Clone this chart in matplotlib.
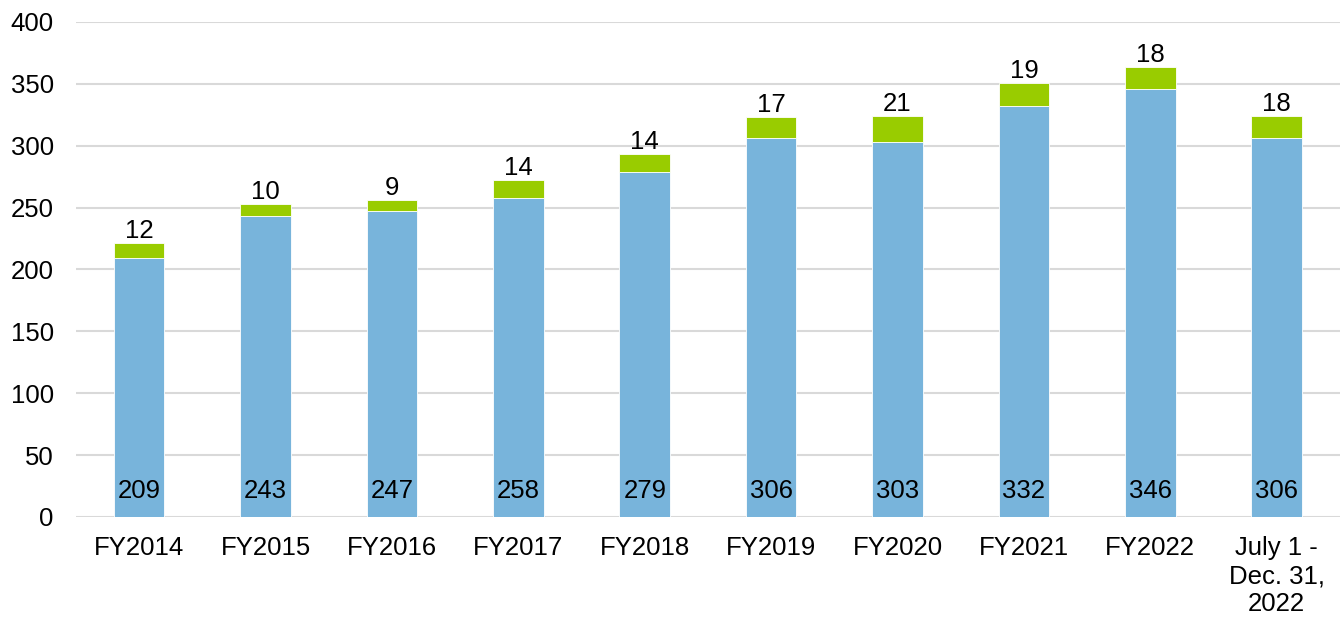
import numpy as np
import matplotlib
matplotlib.use("Agg")
import matplotlib.pyplot as plt

categories = ["FY2014", "FY2015", "FY2016", "FY2017", "FY2018", "FY2019",
              "FY2020", "FY2021", "FY2022", "July 1 -\nDec. 31,\n2022"]
base_values = [209, 243, 247, 258, 279, 306, 303, 332, 346, 306]
top_values = [12, 10, 9, 14, 14, 17, 21, 19, 18, 18]

plt.rcParams["font.family"] = ["Liberation Sans", "DejaVu Sans"]
plt.rcParams["font.size"] = 18.5

fig = plt.figure(figsize=(13.44, 6.21), dpi=100)
ax = fig.add_axes([0.0565, 0.1675, 0.9405, 0.7971])

x = np.arange(len(categories))
blue = "#78B4DB"
green = "#99CC00"
ax.bar(x, base_values, width=0.4, color=blue, edgecolor="white", linewidth=0.6, zorder=2)
ax.bar(x, top_values, width=0.4, bottom=base_values, color=green,
       edgecolor="white", linewidth=0.6, zorder=2)

for i in range(len(categories)):
    ax.text(x[i], 21, str(base_values[i]), ha="center", va="center", zorder=3)
    ax.annotate(str(top_values[i]), (x[i], base_values[i] + top_values[i]),
                xytext=(0, 0), textcoords="offset points",
                ha="center", va="bottom", zorder=3)

ax.set_xlim(-0.5, len(categories) - 0.5)
ax.set_ylim(0, 400)
ax.set_yticks(range(0, 401, 50))
ax.set_xticks(x)
ax.set_xticklabels(categories, linespacing=1.2)
ax.yaxis.grid(True, color="#D9D9D9", linewidth=1.5, zorder=0)
ax.set_axisbelow(True)
for s in ax.spines.values():
    s.set_visible(False)
ax.tick_params(axis="both", length=0)
ax.tick_params(axis="y", pad=16)
ax.tick_params(axis="x", pad=14)

fig.savefig("out.png", dpi=100)
